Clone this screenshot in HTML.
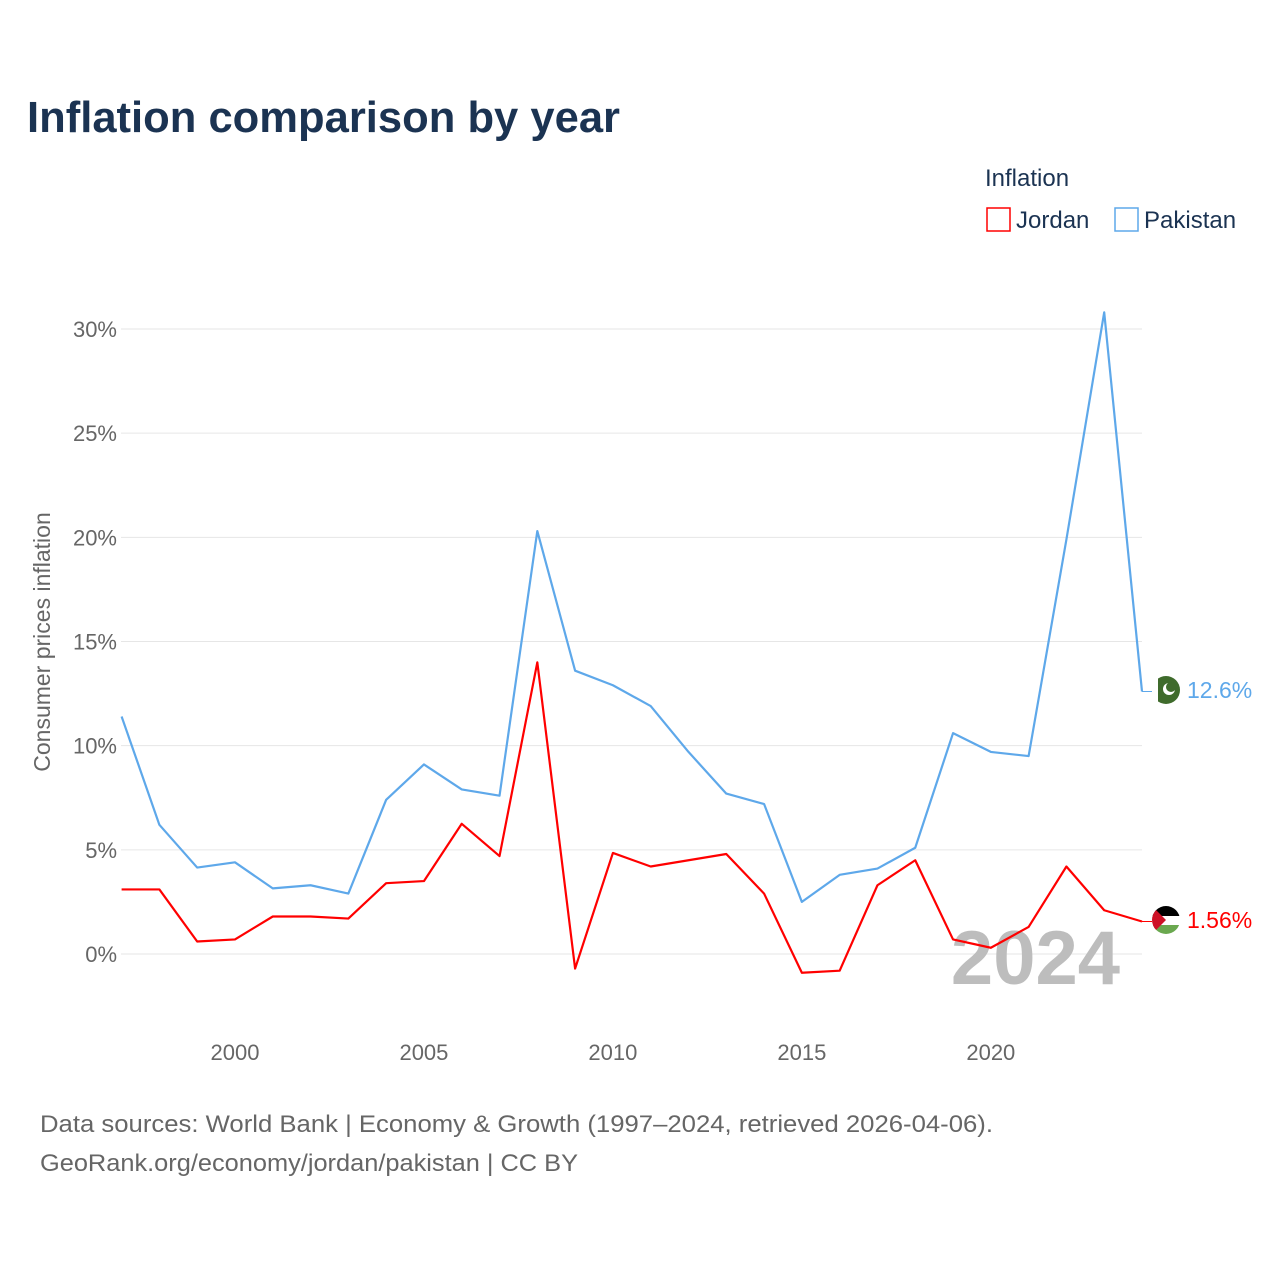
<!DOCTYPE html>
<html><head><meta charset="utf-8">
<style>
body{margin:0;background:#fff;font-family:"Liberation Sans",sans-serif;}
svg text{font-family:"Liberation Sans",sans-serif;}
</style></head>
<body>
<svg width="1280" height="1280" xmlns="http://www.w3.org/2000/svg">
<text x="27" y="132" font-size="44" font-weight="bold" fill="#1b3352" textLength="593" lengthAdjust="spacingAndGlyphs">Inflation comparison by year</text>
<g>
<text x="985" y="186" font-size="24" fill="#1b3352">Inflation</text>
<g><rect x="987" y="208" width="23" height="23" fill="none" stroke="#ff0000" stroke-width="1.5"/><text x="1016" y="228" font-size="24" fill="#1b3352">Jordan</text></g>
<g><rect x="1115" y="208" width="23" height="23" fill="none" stroke="#5ea8ea" stroke-width="1.5"/><text x="1144" y="228" font-size="24" fill="#1b3352">Pakistan</text></g>
</g>
<g id="grid"></g>
<g id="yticks"></g>
<g id="xticks"></g>
<text transform="translate(50,642) rotate(-90)" text-anchor="middle" font-size="23" fill="#666">Consumer prices inflation</text>
<text x="1120" y="984" text-anchor="end" font-size="76" font-weight="bold" fill="#bdbdbd">2024</text>
<g id="series"></g>
<g><circle cx="1166" cy="690" r="14" fill="#3f6b2c"/><rect x="1152" y="676" width="6" height="28" fill="#fff"/><circle cx="1169" cy="689" r="6" fill="#fff"/><circle cx="1171" cy="687" r="5" fill="#3f6b2c"/></g>
<g><clipPath id="jc"><circle cx="1166" cy="920" r="14"/></clipPath><g clip-path="url(#jc)"><rect x="1152" y="906" width="28" height="10" fill="#000"/><rect x="1152" y="916" width="28" height="9" fill="#fff"/><rect x="1152" y="925" width="28" height="10" fill="#6aa84f"/><polygon points="1152,906 1166,920 1152,934" fill="#ce1126"/></g></g>
<text x="1187" y="698" font-size="23" fill="#5ea8ea">12.6%</text>
<text x="1187" y="928" font-size="23" fill="#ff0000">1.56%</text>
<text x="40" y="1132" font-size="24" fill="#666" textLength="953" lengthAdjust="spacingAndGlyphs">Data sources: World Bank | Economy &amp; Growth (1997–2024, retrieved 2026-04-06).</text>
<text x="40" y="1171" font-size="24" fill="#666" textLength="538" lengthAdjust="spacingAndGlyphs">GeoRank.org/economy/jordan/pakistan | CC BY</text>
</svg>
<script>
const years=[1997,1998,1999,2000,2001,2002,2003,2004,2005,2006,2007,2008,2009,2010,2011,2012,2013,2014,2015,2016,2017,2018,2019,2020,2021,2022,2023,2024];
const pakistan=[11.4,6.2,4.15,4.4,3.15,3.3,2.9,7.4,9.1,7.9,7.6,20.3,13.6,12.9,11.9,9.7,7.7,7.2,2.5,3.8,4.1,5.1,10.6,9.7,9.5,19.9,30.8,12.6];
const jordan=[3.1,3.1,0.6,0.7,1.8,1.8,1.7,3.4,3.5,6.25,4.7,14.0,-0.7,4.85,4.2,4.5,4.8,2.9,-0.9,-0.8,3.3,4.5,0.7,0.3,1.3,4.2,2.1,1.56];
const yTicks=[0,5,10,15,20,25,30];
const xTicks=[2000,2005,2010,2015,2020];
const NS="http://www.w3.org/2000/svg";
const x=v=>121.6+(v-1997)*(1142-121.6)/27;
const y=v=>954-v*(954-329)/30;
const grid=document.getElementById('grid'),yt=document.getElementById('yticks'),xt=document.getElementById('xticks'),ser=document.getElementById('series');
yTicks.forEach(t=>{
 const l=document.createElementNS(NS,'line');
 
 
 l.setAttribute('x1',121);l.setAttribute('x2',1142);l.setAttribute('y1',y(t));l.setAttribute('y2',y(t));
 l.setAttribute('stroke','#e6e6e6');l.setAttribute('stroke-width','1');grid.appendChild(l);
 const tx=document.createElementNS(NS,'text');
 
 
 tx.setAttribute('x',117);tx.setAttribute('y',y(t)+8);tx.setAttribute('text-anchor','end');tx.setAttribute('font-size','22');tx.setAttribute('fill','#666');
 tx.textContent=t+'%';yt.appendChild(tx);
});
xTicks.forEach(t=>{
 const tx=document.createElementNS(NS,'text');
 
 
 tx.setAttribute('x',x(t));tx.setAttribute('y',1060);tx.setAttribute('text-anchor','middle');tx.setAttribute('font-size','22');tx.setAttribute('fill','#666');
 tx.textContent=t;xt.appendChild(tx);
});
function line(vals,color,name){
 const p=document.createElementNS(NS,'polyline');
 
 
 p.setAttribute('points',vals.map((v,i)=>x(years[i])+','+y(v)).join(' '));
 p.setAttribute('fill','none');p.setAttribute('stroke',color);p.setAttribute('stroke-width','2.2');p.setAttribute('stroke-linejoin','round');
 ser.appendChild(p);
 const c=document.createElementNS(NS,'line');
 
 
 const yy=y(vals[vals.length-1]);
 c.setAttribute('x1',1142);c.setAttribute('x2',1152);c.setAttribute('y1',yy);c.setAttribute('y2',yy);c.setAttribute('stroke',color);c.setAttribute('stroke-width','1');
 ser.appendChild(c);
}
line(pakistan,'#5ea8ea','pakistan-line');
line(jordan,'#ff0000','jordan-line');
</script>
</body></html>
